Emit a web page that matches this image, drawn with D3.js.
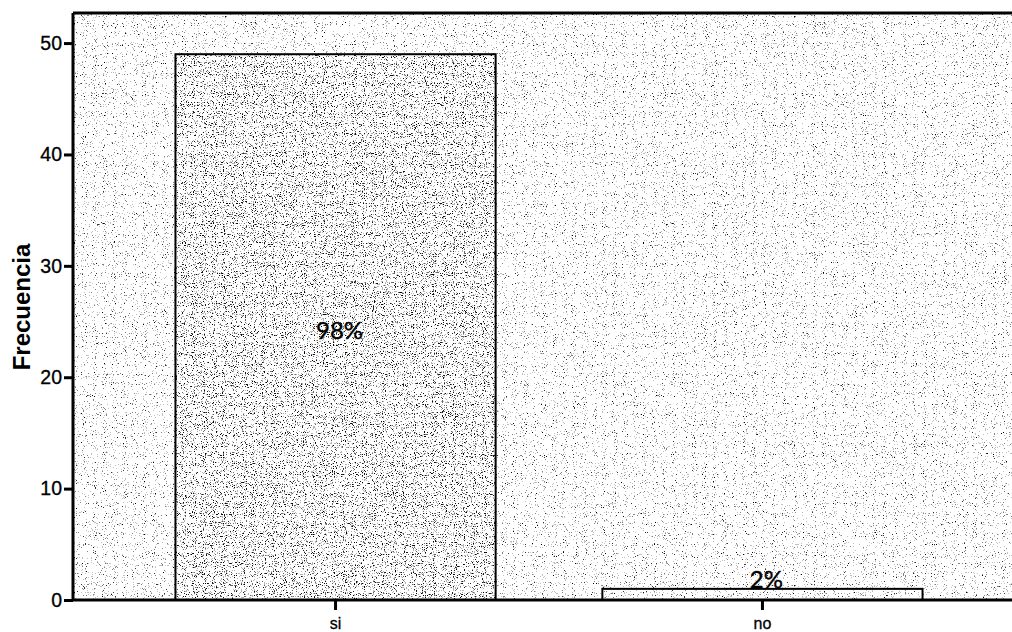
<!DOCTYPE html>
<html>
<head>
<meta charset="utf-8">
<script src="https://cdn.jsdelivr.net/npm/d3@7"></script>
<style>
  html, body { margin: 0; padding: 0; background: #fff; }
  svg { display: block; }
</style>
</head>
<body>
<svg id="chart" width="1012" height="632"></svg>
<script>
// Categories, counts and percentage labels
const categories = ["si", "no"];
const counts = [49, 1];
const percentLabels = ["98%", "2%"];
const yTicks = [0, 10, 20, 30, 40, 50];

const W = 1012, H = 632;
const margin = { left: 73, top: 13, bottom: 600 };

const svg = d3.select("#chart");

// Speckled grey texture used for the plot area and the bars
const defs = svg.append("defs");
function speckle(id, seed, table) {
  const f = defs.append("filter").attr("id", id)
    .attr("x", 0).attr("y", 0).attr("width", "100%").attr("height", "100%")
    .attr("filterUnits", "objectBoundingBox");
  f.append("feTurbulence").attr("type", "fractalNoise")
    .attr("baseFrequency", 0.9).attr("numOctaves", 2).attr("seed", seed).attr("result", "n");
  f.append("feColorMatrix").attr("type", "matrix")
    .attr("values", "0 0 0 0 0  0 0 0 0 0  0 0 0 0 0  1 0 0 0 0");
  const ct = f.append("feComponentTransfer");
  ct.append("feFuncA").attr("type", "discrete").attr("tableValues", table);
}
speckle("bgSpeckle", 7, "0 0 0 0 0 0 0 0 0 0 0 0 0 0.25 0.5 0.8 1 1 1 1");
speckle("barSpeckle", 11, "0 0 0 0 0 0 0 0 0 0 0 0 0.3 0.6 0.9 1 1 1 1 1");

const x = d3.scaleBand()
  .domain(categories)
  .range([margin.left, 1025])
  .paddingInner(0.25)
  .paddingOuter(0.24);

const y = d3.scaleLinear()
  .domain([0, 52.7])
  .range([margin.bottom, margin.top]);

// Plot background texture
svg.append("rect")
  .attr("x", margin.left).attr("y", margin.top)
  .attr("width", W - margin.left).attr("height", margin.bottom - margin.top)
  .attr("fill", "#1a1a1a")
  .attr("filter", "url(#bgSpeckle)");

// Bars
const bars = svg.append("g");
categories.forEach((c, i) => {
  const x0 = x(c), bw = x.bandwidth();
  const y0 = y(counts[i]);
  bars.append("rect")
    .attr("x", x0).attr("y", y0)
    .attr("width", bw).attr("height", y(0) - y0)
    .attr("fill", "#fff");
  bars.append("rect")
    .attr("x", x0).attr("y", y0)
    .attr("width", bw).attr("height", y(0) - y0)
    .attr("fill", "#1a1a1a")
    .attr("filter", i === 0 ? "url(#barSpeckle)" : "url(#bgSpeckle)");
  bars.append("rect")
    .attr("x", x0).attr("y", y0)
    .attr("width", bw).attr("height", y(0) - y0)
    .attr("fill", "none")
    .attr("stroke", "#000").attr("stroke-width", 2);
});

// Percentage labels
categories.forEach((c, i) => {
  const cx = x(c) + x.bandwidth() / 2;
  const ly = i === 0 ? y(counts[i] / 2) + 12 : y(counts[i]) - 1;
  svg.append("text")
    .attr("x", cx + 4).attr("y", ly)
    .attr("text-anchor", "middle")
    .attr("font-family", "Lato, 'Open Sans', sans-serif")
    .attr("font-size", 24)
    .attr("fill", "#000")
    .attr("stroke", "#000").attr("stroke-width", 0.4)
    .text(percentLabels[i]);
});

// Frame top line
svg.append("line")
  .attr("x1", margin.left).attr("x2", W)
  .attr("y1", margin.top).attr("y2", margin.top)
  .attr("stroke", "#000").attr("stroke-width", 3);

// Y axis
const yAxis = svg.append("g")
  .attr("transform", `translate(${margin.left},0)`)
  .call(d3.axisLeft(y).tickValues(yTicks).tickSize(9).tickPadding(2).tickFormat(d3.format("d")));
yAxis.select(".domain").attr("stroke", "#000").attr("stroke-width", 3)
  .attr("d", `M0,${margin.top}V${margin.bottom}`);
yAxis.selectAll(".tick line").attr("stroke", "#000").attr("stroke-width", 3);
yAxis.selectAll(".tick text")
  .attr("font-family", "'Liberation Sans', Arial, sans-serif")
  .attr("font-size", 19.5).attr("fill", "#000")
  .attr("stroke", "#000").attr("stroke-width", 0.3);

// X axis
const xAxis = svg.append("g")
  .attr("transform", `translate(0,${margin.bottom})`)
  .call(d3.axisBottom(x).tickSize(10).tickPadding(8));
xAxis.select(".domain").attr("stroke", "#000").attr("stroke-width", 3)
  .attr("d", `M${margin.left},0H${W}`);
xAxis.selectAll(".tick line").attr("stroke", "#000").attr("stroke-width", 3);
xAxis.selectAll(".tick text")
  .attr("font-family", "'Liberation Sans', Arial, sans-serif")
  .attr("font-size", 16).attr("fill", "#000")
  .attr("stroke", "#000").attr("stroke-width", 0.3);

// Y axis title
svg.append("text")
  .attr("transform", "translate(30,307) rotate(-90)")
  .attr("text-anchor", "middle")
  .attr("font-family", "'Liberation Sans', Arial, sans-serif")
  .attr("font-weight", "bold")
  .attr("font-size", 24)
  .attr("fill", "#000")
  .text("Frecuencia");
</script>
</body>
</html>
